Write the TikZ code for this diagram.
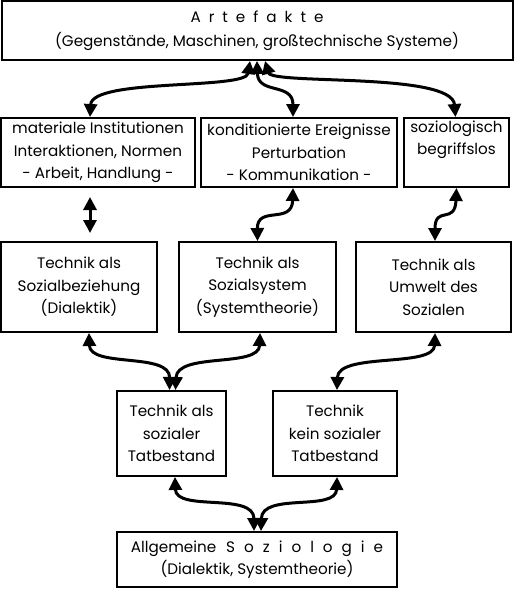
\documentclass[tikz,border=0pt]{standalone}
\usepackage{fontspec}
\setmainfont{Poppins}
\usetikzlibrary{arrows.meta}
\begin{document}
\begin{tikzpicture}[x=1pt,y=-1pt,
 box/.style={draw,line width=2pt,inner sep=0pt,align=center,font=\fontsize{15.2}{22.5}\selectfont},
 conn/.style={line width=3pt,{Triangle[width=13pt,length=13pt]}-{Triangle[width=13pt,length=13pt]}}]
\useasboundingbox (0,0) rectangle (514,597);
\node[box,minimum width=511pt,minimum height=59pt] (art) at (257,30.5) {{\spaceskip=8pt A r t e f a k t e}\\[2pt](Gegenstände, Maschinen, großtechnische Systeme)};
\node[box,minimum width=194pt,minimum height=69pt] (A) at (98,152.5) {materiale Institutionen\\Interaktionen, Normen\\- Arbeit, Handlung -};
\node[box,minimum width=196pt,minimum height=69pt] (B) at (299,152.5) {konditionierte Ereignisse\\Perturbation\\- Kommunikation -};
\node[box,minimum width=105pt,minimum height=69pt] (C) at (456.5,152.5) {soziologisch\\begriffslos\\\strut};
\node[box,minimum width=156pt,minimum height=90pt] (D) at (79,287) {Technik als\\Sozialbeziehung\\(Dialektik)};
\node[box,minimum width=157pt,minimum height=90pt] (E) at (257.5,287) {Technik als\\Sozialsystem\\(Systemtheorie)};
\node[box,minimum width=155pt,minimum height=90pt] (F) at (433.5,287) {Technik als\\Umwelt des\\Sozialen};
\node[box,minimum width=109pt,minimum height=85pt] (G) at (171.5,433.5) {Technik als\\sozialer\\Tatbestand};
\node[box,minimum width=124pt,minimum height=85pt] (H) at (335,433.5) {Technik\\kein sozialer\\Tatbestand};
\node[box,minimum width=280pt,minimum height=55pt] (S) at (257,559.5) {Allgemeine\hspace{10pt}{\spaceskip=9pt S o z i o l o g i e}\\(Dialektik, Systemtheorie)};

\draw[conn] ([xshift=-7pt]art.south) .. controls (246,90) and (92,78) .. ([xshift=-8pt]A.north);
\draw[conn] (art.south) .. controls (258,95) and (293,82) .. ([xshift=-6pt]B.north);
\draw[conn] ([xshift=8pt]art.south) .. controls (272,85) and (452,72) .. ([xshift=-1pt]C.north);
\draw[conn,shorten <=9pt,shorten >=8pt] ([xshift=-8pt]A.south) -- ([xshift=11pt]D.north);
\draw[conn] ([xshift=-6pt]B.south) .. controls (292,225) and (257,205) .. (E.north);
\draw[conn] (C.south) .. controls (455,225) and (435,205) .. ([xshift=1.5pt]F.north);
\draw[conn] ([xshift=10pt]D.south) .. controls (90,368) and (170,352) .. ([xshift=-2pt]G.north);
\draw[conn] ([xshift=2.5pt]E.south) .. controls (259,368) and (177,352) .. ([xshift=4pt]G.north);
\draw[conn] ([xshift=1.5pt]F.south) .. controls (434,368) and (338,352) .. ([xshift=2pt]H.north);
\draw[conn] ([xshift=3.5pt]G.south) .. controls (176,512) and (254,492) .. ([xshift=-3pt]S.north);
\draw[conn] ([xshift=2pt]H.south) .. controls (336,512) and (262,492) .. ([xshift=4pt]S.north);
\end{tikzpicture}
\end{document}
